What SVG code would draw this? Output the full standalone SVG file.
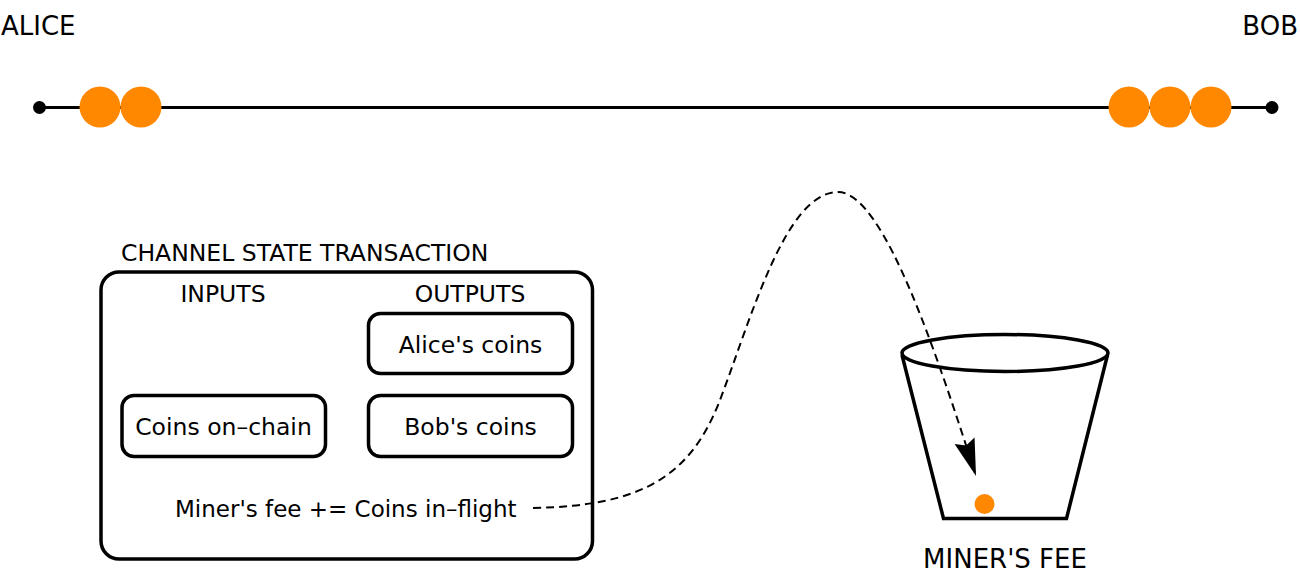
<svg xmlns="http://www.w3.org/2000/svg" width="1300" height="585" viewBox="0 0 1300 585">
  <style>
    text { font-family: "DejaVu Sans", "Liberation Sans", sans-serif; fill: #000; }
    .big { font-size: 26px; }
    .mid { font-size: 23.5px; }
    .box { fill: none; stroke: #000; stroke-width: 3.5; }
    .coin { fill: #FF8800; }
    .chain { stroke: #000; stroke-width: 3.2; fill: none; }
    .flow { fill: none; stroke: #000; stroke-width: 2; stroke-dasharray: 8 5; }
  </style>
  <defs>
    <marker id="arrow" markerUnits="userSpaceOnUse" markerWidth="44" markerHeight="26" viewBox="-40 -13 44 26" refX="0" refY="0" orient="auto">
      <path d="M0,0 L-37,-10.5 L-32,0 L-37,10.5 Z" fill="#000"/>
    </marker>
  </defs>

  <rect width="1300" height="585" fill="#fff"/>

  <g id="channel">
    <line class="chain" x1="40" y1="107.5" x2="1272" y2="107.5"/>
    <circle cx="39.5" cy="107.5" r="6.5" fill="#000"/>
    <circle cx="1272" cy="107.5" r="6.5" fill="#000"/>
    <circle class="coin" cx="100" cy="107" r="20.5"/>
    <circle class="coin" cx="141" cy="107" r="20.5"/>
    <circle class="coin" cx="1129" cy="107" r="20.5"/>
    <circle class="coin" cx="1170" cy="107" r="20.5"/>
    <circle class="coin" cx="1211" cy="107" r="20.5"/>
  </g>

  <g id="alice">
    <text class="big" x="1" y="35">ALICE</text>
  </g>
  <g id="bob">
    <text class="big" x="1298" y="35" text-anchor="end">BOB</text>
  </g>

  <g id="transaction">
    <text class="mid" x="121" y="261">CHANNEL STATE TRANSACTION</text>
    <rect class="box" x="101" y="272" width="491.5" height="287" rx="18"/>
    <text class="mid" x="223" y="302" text-anchor="middle">INPUTS</text>
    <text class="mid" x="470" y="302" text-anchor="middle">OUTPUTS</text>
    <text class="mid" x="175" y="517" style="font-size:23px">Miner's fee += Coins in–flight</text>
  </g>

  <g id="alices-coins">
    <rect class="box" x="368.5" y="313.5" width="204" height="60" rx="12"/>
    <text class="mid" x="470.5" y="353" text-anchor="middle">Alice's coins</text>
  </g>
  <g id="bobs-coins">
    <rect class="box" x="368.5" y="395.5" width="204" height="61" rx="12"/>
    <text class="mid" x="470.5" y="435" text-anchor="middle">Bob's coins</text>
  </g>
  <g id="coins-on-chain">
    <rect class="box" x="122" y="395.5" width="203.5" height="61" rx="12"/>
    <text class="mid" x="223.5" y="435" text-anchor="middle">Coins on–chain</text>
  </g>

  <g id="miners-fee">
    <path class="box" d="M902,355 L943.5,518.5 L1066.5,518.5 L1107.5,355"/>
    <ellipse class="box" cx="1005" cy="353" rx="103" ry="18.5"/>
    <circle class="coin" cx="984.5" cy="504" r="10"/>
    <text class="big" x="1005" y="568" text-anchor="middle">MINER'S FEE</text>
  </g>

  <g id="connectors">
    <path class="flow" d="M533,508 C640,506 690,478 720,400 C750,322 785,192 838,192 C885,192 940,365 976,476" marker-end="url(#arrow)"/>
  </g>
</svg>
